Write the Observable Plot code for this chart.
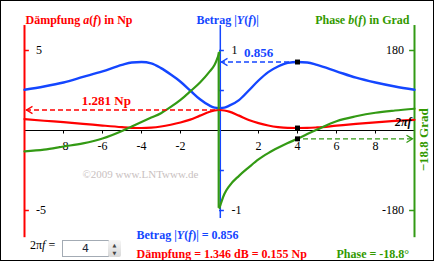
<!DOCTYPE html>
<html><head><meta charset="utf-8">
<script src="https://cdn.jsdelivr.net/npm/d3@7"></script>
<script src="https://cdn.jsdelivr.net/npm/@observablehq/plot@0.6"></script>
<style>
body{margin:0;background:#fff;}
#wrap{position:relative;width:436px;height:263px;overflow:hidden;background:#fff;}
#wrap svg{position:absolute;left:0;top:0;}
#border{position:absolute;left:0;top:0;width:432px;height:259px;border:1px solid #000;}
#lbl2pf{position:absolute;left:30px;top:238px;font:12px "Liberation Serif",serif;line-height:14px;color:#000;}
#box{position:absolute;left:62px;top:240px;width:45px;height:15px;border:1px solid #a3abb4;background:#fff;font:11px "DejaVu Sans",sans-serif;text-align:center;line-height:15px;color:#1c2838;}
#spin{position:absolute;left:108px;top:240px;width:13px;height:17px;background:linear-gradient(#f6f6f6,#d8d8d8);border-radius:2px;font:5px "DejaVu Sans",sans-serif;color:#444;text-align:center;line-height:8px;}
</style></head><body>
<div id="wrap"></div>
<script>
// ---- data ----
const freqLeft  = [-10,-9,-8,-7,-6,-5,-4.5,-4,-3.5,-3,-2.5,-2,-1.5,-1,-0.5,-0.25,0];
const magLeft   = [0.51,0.55,0.60,0.67,0.74,0.82,0.85,0.856,0.84,0.78,0.70,0.61,0.50,0.39,0.31,0.285,0.278];
const dampLeft  = [0.71,0.61,0.52,0.42,0.31,0.21,0.17,0.155,0.18,0.25,0.36,0.50,0.68,0.93,1.17,1.25,1.281];
const phaseLeft = [-47,-43,-36,-29,-18,-1,9,19,29,39,53,69,88,108,133,148,176];

const freqRight  = [0,0.25,0.5,1,1.5,2,2.5,3,3.5,4,4.5,5,6,7,8,9,10];
const magRight   = [0.278,0.285,0.31,0.38,0.50,0.625,0.73,0.80,0.845,0.856,0.85,0.82,0.74,0.66,0.60,0.55,0.51];
const dampRight  = [1.281,1.25,1.18,0.93,0.66,0.46,0.31,0.21,0.16,0.155,0.16,0.19,0.30,0.41,0.51,0.60,0.67];
const phaseRight = [-174,-143,-125,-102,-83,-65,-51,-39,-28,-18.8,-8,2,21,32,40,45,49];

const xTicks = [-8,-6,-4,-2,2,4,6,8];
const dampTicks = [-5,5];          // Np
const magTicks = [-1,-0.5,0.5,1];  // |Y|
const magLabels = [-1,1];
const phaseTicks = [-180,180];     // Grad

const omega = 4;          // 2πf
const selMag = 0.856;
const selDampNp = 0.155;
const selDampDb = 1.346;
const selPhase = -18.8;
const dcDamp = 1.281;

// ---- colours ----
const RED = "#ff0000", BLUE = "#1446ff", GREEN = "#339a14", GREENT = "#339900";

// scale factors: red axis (Np) is the y unit; blue 1 <-> 5 ; green 180 <-> 5
const magK = 5, phK = 5/180;
const axTop = 6.56, axBot = -6.7, blueBot = -5.5;

const rows = [];
freqLeft.forEach((f,i)=>rows.push({f, mag:magLeft[i], damp:dampLeft[i], ph:phaseLeft[i], side:"L"}));
freqRight.forEach((f,i)=>rows.push({f, mag:magRight[i], damp:dampRight[i], ph:phaseRight[i], side:"R"}));

function chevron(dir){
  return {draw(ctx, size){
    const s = Math.sqrt(size/Math.PI);
    ctx.moveTo(dir*s, -0.6*s); ctx.lineTo(0,0); ctx.lineTo(dir*s, 0.6*s);
  }};
}

const serif = "Liberation Serif, Times New Roman, serif";

const chart = Plot.plot({
  width: 436, height: 263,
  marginTop: 0, marginRight: 0, marginBottom: 0, marginLeft: 0,
  x: {domain: [-10, 10], range: [24, 414], axis: null},
  y: {domain: [-5, 5], range: [210, 50], axis: null},
  style: {background: "transparent", fontFamily: serif, overflow: "visible"},
  marks: [
    // x axis
    Plot.ruleY([0], {x1: -10, x2: 10, stroke: "#000", strokeWidth: 1}),
    Plot.ruleX(xTicks, {y1: 0, y2: -0.22, stroke: "#000"}),
    Plot.text(xTicks, {x: d => d, y: 0, text: d => String(d), dy: 15.3, fontSize: 12}),
    // red axis
    Plot.ruleX([-10], {y1: axBot, y2: axTop, stroke: RED, strokeWidth: 2}),
    Plot.ruleY(dampTicks, {x1: -10, x2: -9.75, stroke: RED, strokeWidth: 1.5}),
    Plot.text(dampTicks, {x: -10, y: d => d, text: d => String(d), dx: 11.5, textAnchor: "start", fontSize: 12}),
    // blue axis
    Plot.ruleX([0], {y1: blueBot, y2: axTop, stroke: BLUE, strokeWidth: 1.5, dx: 0.8}),
    Plot.ruleY(magTicks, {x1: 0, x2: 0.25, y: d => d*magK, stroke: BLUE, strokeWidth: 1.5}),
    Plot.text(magLabels, {x: 0, y: d => d*magK, text: d => String(d), dx: 12, textAnchor: "start", fontSize: 12}),
    // green axis
    Plot.ruleX([10], {y1: axBot, y2: axTop, stroke: GREEN, strokeWidth: 2}),
    Plot.ruleY(phaseTicks, {x1: 9.75, x2: 10, y: d => d*phK, stroke: GREEN, strokeWidth: 1.5}),
    Plot.text(phaseTicks, {x: 10, y: d => d*phK, text: d => String(d), dx: -10.5, textAnchor: "end", fontSize: 12}),
    // watermark
    Plot.text(["©2009 www.LNTwww.de"], {frameAnchor: "top-left", dx: 82, dy: 170, textAnchor: "start", text: d => d, fontSize: 11, fill: "#c9c1c1"}),
    // curves
    Plot.line(rows, {x: "f", y: "damp", z: "side", stroke: RED, strokeWidth: 2.2, curve: "monotone-x"}),
    Plot.line(rows, {x: "f", y: d => d.mag*magK, z: "side", stroke: BLUE, strokeWidth: 2.4, curve: "monotone-x"}),
    Plot.line(rows, {x: "f", y: d => d.ph*phK, z: "side", stroke: GREEN, strokeWidth: 2.2, curve: "monotone-x"}),
    Plot.link([{a: phaseLeft[phaseLeft.length-1], b: phaseRight[0]}], {x1: 0, x2: 0, y1: d => d.a*phK, y2: d => d.b*phK, stroke: GREEN, strokeWidth: 2.2, dx: -0.8}),
    // dashed readout lines
    Plot.ruleY([dcDamp], {x1: -10, x2: 0, stroke: RED, strokeWidth: 1.3, strokeDasharray: "5,3", dx: 2}),
    Plot.dot([dcDamp], {x: -10, y: d => d, dx: 2, r: 6, symbol: chevron(1), fill: "none", stroke: RED, strokeWidth: 1.3}),
    Plot.ruleY([selMag], {x1: omega, x2: 0, y: d => d*magK, stroke: BLUE, strokeWidth: 1.3, strokeDasharray: "5,3"}),
    Plot.dot([selMag], {x: 0, y: d => d*magK, dx: 2, r: 6, symbol: chevron(1), fill: "none", stroke: BLUE, strokeWidth: 1.3}),
    Plot.ruleY([selPhase], {x1: omega, x2: 10, y: d => d*phK, stroke: GREEN, strokeWidth: 1.3, strokeDasharray: "5,3", dx: -2}),
    Plot.dot([selPhase], {x: 10, y: d => d*phK, dx: -2, r: 6, symbol: chevron(-1), fill: "none", stroke: GREEN, strokeWidth: 1.3}),
    // markers
    Plot.dot([{v: selMag*magK}, {v: selDampNp}, {v: selPhase*phK}], {x: omega, y: "v", symbol: "square", r: 2.8, fill: "#000", stroke: "none"}),
    // value labels
    Plot.text([dcDamp], {x: -5.8, y: d => d, text: d => `${d} Np`, dy: -9.2, fill: RED, fontWeight: "bold", fontSize: 13}),
    Plot.text([selMag], {x: omega/2, y: d => d*magK, text: d => String(d), dy: -8.7, fill: BLUE, fontWeight: "bold", fontSize: 13}),
    Plot.text([selPhase], {x: 10, y: d => d*phK, text: d => `\u2212${Math.abs(d)} Grad`, rotate: -90, dx: 9.5, dy: 1, fill: GREENT, fontWeight: "bold", fontSize: 13}),
    Plot.text(["2π_f_"], {x: 10, y: 0, text: d => d, dx: -3, dy: -8, textAnchor: "end", fontWeight: "bold", fontStyle: "italic", fontSize: 12}),
    // titles
    Plot.text(["Dämpfung _a_(_f_) in Np"], {frameAnchor: "top-left", text: d => d, dx: 25, dy: 15.3, textAnchor: "start", fill: RED, fontWeight: "bold", fontSize: 12}),
    Plot.text(["Betrag |_Y_(_f_)|"], {frameAnchor: "top-left", text: d => d, dx: 196, dy: 15.3, textAnchor: "start", fill: BLUE, fontWeight: "bold", fontSize: 12}),
    Plot.text(["Phase _b_(_f_) in Grad"], {frameAnchor: "top-left", text: d => d, dx: 409, dy: 15.3, textAnchor: "end", fill: GREENT, fontWeight: "bold", fontSize: 12}),
    // bottom readouts
    Plot.text([selMag], {frameAnchor: "top-left", text: d => `Betrag |_Y_(_f_)| = ${d}`, dx: 136, dy: 229.5, textAnchor: "start", fill: BLUE, fontWeight: "bold", fontSize: 12}),
    Plot.text([selDampDb], {frameAnchor: "top-left", text: d => `Dämpfung = ${d.toFixed(3)} dB = ${selDampNp.toFixed(3)} Np`, dx: 136, dy: 248.5, textAnchor: "start", fill: RED, fontWeight: "bold", fontSize: 12}),
    Plot.text([selPhase], {frameAnchor: "top-left", text: d => `Phase = ${d}°`, dx: 336, dy: 248.5, textAnchor: "start", fill: GREENT, fontWeight: "bold", fontSize: 12})
  ]
});

// italic fragments marked with _..._
const NS = "http://www.w3.org/2000/svg";
chart.querySelectorAll("text").forEach(t => {
  const s = t.textContent;
  if (!s.includes("_")) return;
  const parts = s.split("_");
  while (t.firstChild) t.removeChild(t.firstChild);
  parts.forEach((p, i) => {
    if (!p) return;
    const ts = document.createElementNS(NS, "tspan");
    ts.textContent = p;
    if (i % 2) ts.setAttribute("font-style", "italic");
    t.appendChild(ts);
  });
});

const wrap = document.getElementById("wrap");
wrap.appendChild(chart);
wrap.insertAdjacentHTML("beforeend",
  `<div id="border"></div>
   <div id="lbl2pf">2π<i>f</i> =</div>
   <div id="box">${omega}</div>
   <div id="spin"><div style="padding-top:1px">▲</div><div>▼</div></div>`);
</script>
</body></html>
